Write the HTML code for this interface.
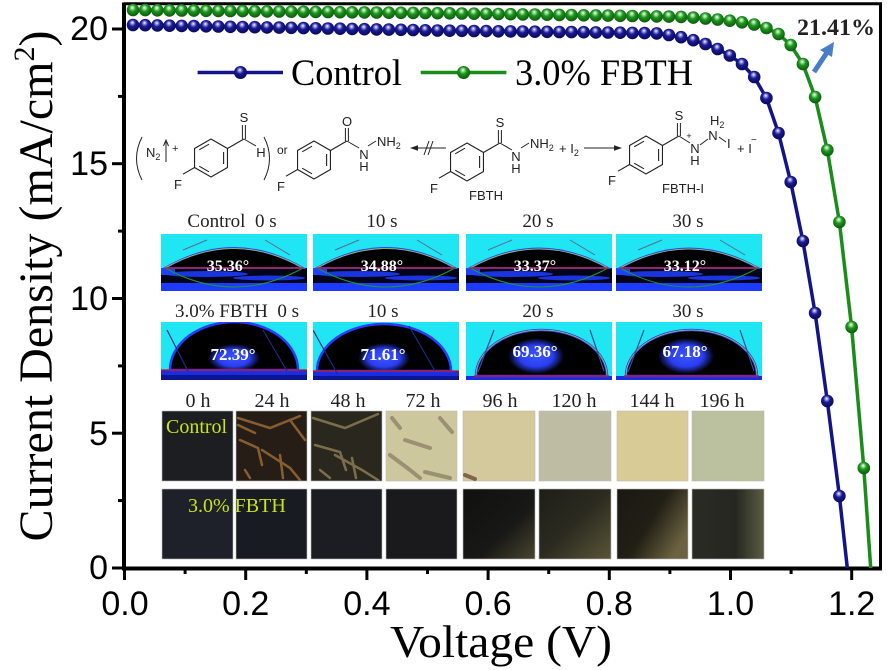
<!DOCTYPE html>
<html><head><meta charset="utf-8"><style>
html,body{margin:0;padding:0;background:#fff;}
svg{display:block;}
.ser{font-family:"Liberation Serif",serif;}
.san{font-family:"Liberation Sans",sans-serif;}
</style></head><body>
<svg width="887" height="670" viewBox="0 0 887 670" xmlns="http://www.w3.org/2000/svg">
<defs>
<radialGradient id="gb" cx="0.45" cy="0.4" r="0.6" fx="0.45" fy="0.3">
<stop offset="0" stop-color="#ffffff"/><stop offset="0.2" stop-color="#8c8ce0"/><stop offset="0.45" stop-color="#1b1b92"/><stop offset="1" stop-color="#08085c"/></radialGradient>
<radialGradient id="gg" cx="0.45" cy="0.4" r="0.6" fx="0.45" fy="0.3">
<stop offset="0" stop-color="#ffffff"/><stop offset="0.2" stop-color="#8fdc8f"/><stop offset="0.45" stop-color="#1f951f"/><stop offset="1" stop-color="#0a5a0a"/></radialGradient>
<radialGradient id="glow" cx="0.5" cy="0.5" r="0.5"><stop offset="0" stop-color="#3a55ff"/><stop offset="0.6" stop-color="#2a3ef0"/><stop offset="1" stop-color="#2a3ef0" stop-opacity="0"/></radialGradient>
<clipPath id="cr1"><rect x="0" y="234" width="146" height="57"/></clipPath>
<clipPath id="cr2"><rect x="0" y="322" width="146" height="58"/></clipPath>
<g id="benz" fill="none" stroke="#222" stroke-width="1.1">
<polygon points="0,-19 16.45,-9.5 16.45,9.5 0,19 -16.45,9.5 -16.45,-9.5"/>
<path d="M12.6,-6 L12.6,6 M-2,13.8 L-11.8,8.2 M-11.8,-8.2 L-2,-13.8"/>
<path d="M16.45,-9.5 L32.9,-19 M-16.45,9.5 L-28,16.2"/>
</g>
<g id="ctl">
<rect x="0" y="234" width="146" height="57" fill="#20e6f4"/>
<rect x="0" y="268" width="146" height="23" fill="#02051a"/>
<rect x="0" y="283" width="146" height="8" fill="#1d3bff"/>
<ellipse cx="45" cy="274" rx="42" ry="3" fill="#1a34e0"/><ellipse cx="108" cy="278" rx="36" ry="2.5" fill="#1a34e0"/><rect x="0" y="268" width="14" height="7" fill="#1e40ff"/>
</g>
<linearGradient id="d96" x1="0" y1="0" x2="1" y2="1"><stop offset="0" stop-color="#101010"/><stop offset="0.6" stop-color="#181816"/><stop offset="1" stop-color="#4a4530"/></linearGradient>
<linearGradient id="d120" x1="0" y1="0" x2="1" y2="1"><stop offset="0" stop-color="#1e1e18"/><stop offset="0.5" stop-color="#2c2b20"/><stop offset="1" stop-color="#5a5538"/></linearGradient>
<linearGradient id="d144" x1="0" y1="0" x2="1" y2="0.6"><stop offset="0" stop-color="#1a1812"/><stop offset="0.55" stop-color="#221f15"/><stop offset="1" stop-color="#6a6240"/></linearGradient>
<linearGradient id="d196" x1="0" y1="0" x2="1" y2="0"><stop offset="0" stop-color="#2a2b25"/><stop offset="0.6" stop-color="#262720"/><stop offset="1" stop-color="#5a5c44"/></linearGradient>
</defs>

<!-- frame / axes -->
<line x1="124" y1="3.8" x2="882" y2="3.8" stroke="#000" stroke-width="3"/>
<line x1="880.5" y1="2.5" x2="880.5" y2="570" stroke="#000" stroke-width="3"/>
<line x1="124" y1="2.5" x2="124" y2="570.5" stroke="#000" stroke-width="4"/>
<line x1="122" y1="568.5" x2="882" y2="568.5" stroke="#000" stroke-width="4"/>
<g stroke="#000" stroke-width="3">
<line x1="124.5" y1="568" x2="124.5" y2="580"/><line x1="245.7" y1="568" x2="245.7" y2="580"/><line x1="366.9" y1="568" x2="366.9" y2="580"/><line x1="488.1" y1="568" x2="488.1" y2="580"/><line x1="609.3" y1="568" x2="609.3" y2="580"/><line x1="730.5" y1="568" x2="730.5" y2="580"/><line x1="851.7" y1="568" x2="851.7" y2="580"/>
<line x1="185.1" y1="568" x2="185.1" y2="574"/><line x1="306.3" y1="568" x2="306.3" y2="574"/><line x1="427.5" y1="568" x2="427.5" y2="574"/><line x1="548.7" y1="568" x2="548.7" y2="574"/><line x1="669.9" y1="568" x2="669.9" y2="574"/><line x1="791.1" y1="568" x2="791.1" y2="574"/>
<line x1="112" y1="568" x2="124" y2="568"/><line x1="112" y1="433.2" x2="124" y2="433.2"/><line x1="112" y1="298.5" x2="124" y2="298.5"/><line x1="112" y1="163.7" x2="124" y2="163.7"/><line x1="112" y1="29" x2="124" y2="29"/>
<line x1="118" y1="500.6" x2="124" y2="500.6"/><line x1="118" y1="365.9" x2="124" y2="365.9"/><line x1="118" y1="231.1" x2="124" y2="231.1"/><line x1="118" y1="96.4" x2="124" y2="96.4"/>
</g>
<g class="san" font-size="34" fill="#000" text-anchor="end">
<text x="108" y="40">20</text><text x="108" y="175">15</text><text x="108" y="310">10</text><text x="108" y="445">5</text><text x="108" y="579">0</text>
</g>
<g class="san" font-size="34" fill="#000" text-anchor="middle">
<text x="125" y="615">0.0</text><text x="245.7" y="615">0.2</text><text x="366.9" y="615">0.4</text><text x="488.1" y="615">0.6</text><text x="609.3" y="615">0.8</text><text x="730.5" y="615">1.0</text><text x="851.7" y="615">1.2</text>
</g>
<text class="ser" x="501" y="657" font-size="45" text-anchor="middle" textLength="222" lengthAdjust="spacingAndGlyphs">Voltage (V)</text>
<text class="ser" transform="translate(52,286) rotate(-90)" font-size="48" text-anchor="middle">Current Density (mA/cm<tspan font-size="30" dy="-18">2</tspan><tspan dy="18">)</tspan></text>

<!-- legend -->
<line x1="197.6" y1="72.5" x2="283" y2="72.5" stroke="#14148a" stroke-width="3.5"/>
<circle cx="240.5" cy="72.5" r="6.5" fill="url(#gb)"/>
<text class="ser" x="291" y="85" font-size="37" textLength="111" lengthAdjust="spacingAndGlyphs">Control</text>
<line x1="420.7" y1="72.5" x2="506.4" y2="72.5" stroke="#1a8c1a" stroke-width="3.5"/>
<circle cx="463.6" cy="72.5" r="6.5" fill="url(#gg)"/>
<text class="ser" x="515" y="85" font-size="37" textLength="178" lengthAdjust="spacingAndGlyphs">3.0% FBTH</text>

<!-- chemistry -->
<g class="san" font-size="13" fill="#222" stroke="none">
<path d="M142,137 Q131,158.5 142,180" fill="none" stroke="#222" stroke-width="1"/>
<text x="146" y="157">N<tspan font-size="9" dy="3">2</tspan></text>
<path d="M166,162 L166,142 M163.5,146 L166,140 L168.5,146" fill="none" stroke="#222" stroke-width="1"/>
<text x="172" y="152" font-size="11">+</text>
<use href="#benz" x="211" y="158"/>
<path d="M242.4,139 L242.4,125 M245.4,139 L245.4,125 M243.9,139 L256,146" fill="none" stroke="#222" stroke-width="1"/>
<text x="244" y="122" text-anchor="middle">S</text>
<text x="261" y="157" text-anchor="middle">H</text>
<text x="178" y="189" text-anchor="middle">F</text>
<path d="M264,137 Q275,158.5 264,180" fill="none" stroke="#222" stroke-width="1"/>
<text x="277" y="154" font-size="12">or</text>

<use href="#benz" x="314" y="160"/>
<path d="M345.4,141 L345.4,128 M348.4,141 L348.4,128 M346.9,141 L359,148 M368,146 L376,141" fill="none" stroke="#222" stroke-width="1"/>
<text x="347" y="126" text-anchor="middle">O</text>
<text x="364" y="159" text-anchor="middle">N</text>
<text x="364" y="171" text-anchor="middle">H</text>
<text x="377" y="146">NH<tspan font-size="9" dy="3">2</tspan></text>
<text x="281" y="191" text-anchor="middle">F</text>

<path d="M446,148 L416,148 M424,155 L429,141 M428,155 L433,141" fill="none" stroke="#222" stroke-width="1"/>
<polygon points="410,148 418,145.3 418,150.7" fill="#222"/>

<use href="#benz" x="467" y="162"/>
<path d="M498.4,143 L498.4,130 M501.4,143 L501.4,130 M499.9,143 L512,150 M521,148 L529,143" fill="none" stroke="#222" stroke-width="1"/>
<text x="500" y="127" text-anchor="middle">S</text>
<text x="516" y="161" text-anchor="middle">N</text>
<text x="516" y="173" text-anchor="middle">H</text>
<text x="530" y="148">NH<tspan font-size="9" dy="3">2</tspan></text>
<text x="434" y="193" text-anchor="middle">F</text>
<text x="486" y="200" text-anchor="middle">FBTH</text>
<text x="559" y="153">+ I<tspan font-size="9" dy="3">2</tspan></text>
<path d="M584,148 L616,148" fill="none" stroke="#222" stroke-width="1"/>
<polygon points="622,148 614,145.3 614,150.7" fill="#222"/>

<use href="#benz" x="646" y="155"/>
<path d="M677.4,136 L677.4,123 M680.4,136 L680.4,123 M678.9,136 L690,143 M700,145 L708,139 M719,137 L726,142" fill="none" stroke="#222" stroke-width="1"/>
<text x="679" y="120" text-anchor="middle">S</text>
<text x="695" y="153" text-anchor="middle">N</text>
<text x="689" y="139" font-size="9" text-anchor="middle">+</text>
<text x="695" y="165" text-anchor="middle">H</text>
<text x="713" y="140" text-anchor="middle">N</text>
<text x="710" y="125">H<tspan font-size="9" dy="3">2</tspan></text>
<text x="727" y="148">I</text>
<text x="737" y="153">+ I</text>
<text x="751" y="143" font-size="10">−</text>
<text x="612" y="185" text-anchor="middle">F</text>
<text x="683" y="193" text-anchor="middle">FBTH-I</text>
</g>

<!-- contact angle labels -->
<g class="ser" font-size="19" fill="#222" text-anchor="middle">
<text x="232" y="227">Control&#160;&#160;0 s</text><text x="382" y="227">10 s</text><text x="538" y="227">20 s</text><text x="688" y="227">30 s</text>
<text x="237" y="317">3.0% FBTH&#160;&#160;0 s</text><text x="383" y="317">10 s</text><text x="538" y="317">20 s</text><text x="688" y="317">30 s</text>
</g>

<!-- control contact images -->
<g>
<g transform="translate(161,0)"><g clip-path="url(#cr1)">
<use href="#ctl"/>
<path d="M4,268 Q73,228 142,268 Z" fill="#000" stroke="#2a48ff" stroke-width="2"/>
<path d="M4,268 Q73,229 142,268" fill="none" stroke="#a8c832" stroke-width="0.8"/>
<path d="M4,268 Q73,306 142,268" fill="none" stroke="#1a9a30" stroke-width="1"/>
<line x1="4" y1="268" x2="142" y2="268" stroke="#d01010" stroke-width="1.2"/>
<path d="M22,250 L46,240 M104,240 L129,255" stroke="#5a6a9a" stroke-width="1"/>
<text class="ser" x="67" y="271" font-size="16" font-weight="bold" fill="#fff" text-anchor="middle">35.36°</text>
</g></g>
<g transform="translate(313,0)"><g clip-path="url(#cr1)">
<use href="#ctl"/>
<path d="M4,268 Q73,228 142,268 Z" fill="#000" stroke="#2a48ff" stroke-width="2"/>
<path d="M4,268 Q73,229 142,268" fill="none" stroke="#a8c832" stroke-width="0.8"/>
<path d="M4,268 Q73,306 142,268" fill="none" stroke="#1a9a30" stroke-width="1"/>
<line x1="4" y1="268" x2="142" y2="268" stroke="#d01010" stroke-width="1.2"/>
<path d="M22,250 L46,240 M104,240 L129,255" stroke="#5a6a9a" stroke-width="1"/>
<text class="ser" x="69" y="271" font-size="16" font-weight="bold" fill="#fff" text-anchor="middle">34.88°</text>
</g></g>
<g transform="translate(466,0)"><g clip-path="url(#cr1)">
<use href="#ctl"/>
<path d="M4,268 Q73,229 142,268 Z" fill="#000" stroke="#2a48ff" stroke-width="2"/>
<path d="M4,268 Q73,230 142,268" fill="none" stroke="#a8c832" stroke-width="0.8"/>
<path d="M4,268 Q73,306 142,268" fill="none" stroke="#1a9a30" stroke-width="1"/>
<line x1="4" y1="268" x2="142" y2="268" stroke="#d01010" stroke-width="1.2"/>
<path d="M22,250 L46,240 M104,240 L129,255" stroke="#5a6a9a" stroke-width="1"/>
<text class="ser" x="69" y="271" font-size="16" font-weight="bold" fill="#fff" text-anchor="middle">33.37°</text>
</g></g>
<g transform="translate(616,0)"><g clip-path="url(#cr1)">
<use href="#ctl"/>
<path d="M4,268 Q73,229 142,268 Z" fill="#000" stroke="#2a48ff" stroke-width="2"/>
<path d="M4,268 Q73,230 142,268" fill="none" stroke="#a8c832" stroke-width="0.8"/>
<path d="M4,268 Q73,306 142,268" fill="none" stroke="#1a9a30" stroke-width="1"/>
<line x1="4" y1="268" x2="142" y2="268" stroke="#d01010" stroke-width="1.2"/>
<path d="M22,250 L46,240 M104,240 L129,255" stroke="#5a6a9a" stroke-width="1"/>
<text class="ser" x="69" y="271" font-size="16" font-weight="bold" fill="#fff" text-anchor="middle">33.12°</text>
</g></g>
</g>

<!-- FBTH contact images -->
<g>
<g transform="translate(161,0)"><g clip-path="url(#cr2)">
<rect x="0" y="322" width="146" height="58" fill="#20e6f4"/>
<rect x="0" y="370" width="146" height="10" fill="#1a2de0"/>
<rect x="0" y="375" width="146" height="5" fill="#0c1690"/>
<path d="M9,370 A64,48 0 0 1 137,370 Z" fill="#000" stroke="#2a3cff" stroke-width="2.5"/>
<ellipse cx="73" cy="358" rx="26" ry="14" fill="url(#glow)"/>
<line x1="0" y1="370" x2="146" y2="370" stroke="#d01010" stroke-width="1.2"/>
<path d="M6,330 L27,371 M102,330 L126,371" stroke="#1a2a8a" stroke-width="1.2"/>
<text class="ser" x="72" y="360" font-size="17" font-weight="bold" fill="#fff" text-anchor="middle">72.39°</text>
</g></g>
<g transform="translate(313,0)"><g clip-path="url(#cr2)">
<rect x="0" y="322" width="146" height="58" fill="#20e6f4"/>
<rect x="0" y="371" width="146" height="9" fill="#1a2de0"/>
<rect x="0" y="376" width="146" height="4" fill="#0c1690"/>
<path d="M4,371 A67,47 0 0 1 138,371 Z" fill="#000" stroke="#2a3cff" stroke-width="2.5"/>
<ellipse cx="71" cy="358" rx="26" ry="15" fill="url(#glow)"/>
<line x1="0" y1="371" x2="146" y2="371" stroke="#d01010" stroke-width="1.2"/>
<path d="M0,330 L25,375 M96,326 L122,371" stroke="#1a2a8a" stroke-width="1.2"/>
<text class="ser" x="70" y="360" font-size="17" font-weight="bold" fill="#fff" text-anchor="middle">71.61°</text>
</g></g>
<g transform="translate(466,0)"><g clip-path="url(#cr2)">
<rect x="0" y="322" width="146" height="58" fill="#20e6f4"/>
<rect x="0" y="376" width="146" height="4" fill="#1a2de0"/>
<path d="M10,376 A65.5,46 0 0 1 141,376 Z" fill="#000" stroke="#2a3cff" stroke-width="2.5"/>
<path d="M10,376 A65.5,46 0 0 1 141,376" fill="none" stroke="#a8c832" stroke-width="0.8"/>
<ellipse cx="70" cy="356" rx="28" ry="18" fill="url(#glow)"/>
<line x1="8" y1="376" x2="143" y2="376" stroke="#d01010" stroke-width="1.2"/>
<path d="M12,372 L28,330 M124,330 L138,371" stroke="#3c4c8c" stroke-width="1.2"/>
<text class="ser" x="69" y="357" font-size="17" font-weight="bold" fill="#fff" text-anchor="middle">69.36°</text>
</g></g>
<g transform="translate(616,0)"><g clip-path="url(#cr2)">
<rect x="0" y="322" width="146" height="58" fill="#20e6f4"/>
<rect x="0" y="376" width="146" height="4" fill="#1a2de0"/>
<path d="M10,376 A65.5,46 0 0 1 141,376 Z" fill="#000" stroke="#2a3cff" stroke-width="2.5"/>
<path d="M10,376 A65.5,46 0 0 1 141,376" fill="none" stroke="#a8c832" stroke-width="0.8"/>
<ellipse cx="70" cy="356" rx="28" ry="18" fill="url(#glow)"/>
<line x1="8" y1="376" x2="143" y2="376" stroke="#d01010" stroke-width="1.2"/>
<path d="M12,372 L28,330 M124,330 L138,371" stroke="#3c4c8c" stroke-width="1.2"/>
<text class="ser" x="69" y="357" font-size="17" font-weight="bold" fill="#fff" text-anchor="middle">67.18°</text>
</g></g>
</g>

<!-- degradation photos -->
<g class="ser" font-size="20" fill="#222" text-anchor="middle">
<text x="198" y="407">0 h</text><text x="272" y="407">24 h</text><text x="348" y="407">48 h</text><text x="423" y="407">72 h</text><text x="500" y="407">96 h</text><text x="574" y="407">120 h</text><text x="652" y="407">144 h</text><text x="722" y="407">196 h</text>
</g>
<g stroke="#bbb" stroke-width="0.6">
<rect x="162" y="411" width="71" height="70" fill="#1c1e22"/>
<rect x="236" y="411" width="71" height="70" fill="#261e16"/>
<rect x="311" y="411" width="71" height="70" fill="#2a271e"/>
<rect x="386" y="411" width="71" height="70" fill="#cdc79e"/>
<rect x="463" y="411" width="72" height="70" fill="#d4c99c"/>
<rect x="539" y="411" width="72" height="70" fill="#bebca3"/>
<rect x="617" y="411" width="71" height="70" fill="#d9cb95"/>
<rect x="692" y="411" width="72" height="70" fill="#bbc09e"/>
<rect x="162" y="489" width="71" height="70" fill="#1e2129"/>
<rect x="236" y="489" width="71" height="70" fill="#181b22"/>
<rect x="311" y="489" width="71" height="70" fill="#1b1d22"/>
<rect x="386" y="489" width="71" height="70" fill="#1a1a1c"/>
<rect x="463" y="489" width="72" height="70" fill="url(#d96)"/>
<rect x="539" y="489" width="72" height="70" fill="url(#d120)"/>
<rect x="617" y="489" width="71" height="70" fill="url(#d144)"/>
<rect x="692" y="489" width="72" height="70" fill="url(#d196)"/>
</g>
<g fill="none" stroke-linecap="round">
<g stroke="#a8743a" stroke-width="2.5" opacity="0.75">
<path d="M238,418 L270,428 L300,416"/><path d="M240,440 L258,448 L262,465"/><path d="M262,450 L290,468 L300,480"/><path d="M280,455 L283,478"/><path d="M245,470 L250,478"/><path d="M290,420 L305,440"/><path d="M238,425 L255,433"/>
</g>
<g stroke="#968659" stroke-width="2.5" opacity="0.75">
<path d="M313,418 L345,428 L378,414"/><path d="M315,445 L340,452 L346,470"/><path d="M335,455 L362,470 L378,480"/><path d="M352,458 L356,478"/><path d="M320,470 L330,478"/>
</g>
<g stroke="#6a5a48" stroke-width="4" opacity="0.5">
<path d="M390,455 L410,470 L420,478"/><path d="M440,418 L452,432"/><path d="M392,418 L400,428"/><path d="M425,472 L450,478"/><path d="M405,440 L430,448"/>
</g>
<path d="M465,475 L475,479" stroke="#5a3a2a" stroke-width="4" opacity="0.7"/>
</g>
<text class="ser" x="166" y="433" font-size="20" fill="#c6e41c">Control</text>
<text class="ser" x="188" y="512" font-size="20" fill="#c6e41c">3.0% FBTH</text>

<!-- curves -->
<polyline fill="none" stroke="#14148a" stroke-width="3.5" stroke-linejoin="round" points="133,25 450,30.7 656.7,33.4 668.9,35 681.1,37.2 693.3,40.2 705.5,44 717.6,49 729.8,55.5 742,64 754.2,77 766.4,98 778.5,133 790.7,182 802.9,241 815.1,313 827.3,401 839.4,496 847.3,568"/>
<polyline fill="none" stroke="#1a8c1a" stroke-width="3.5" stroke-linejoin="round" points="133,10 450,13.3 681.1,16.9 693.3,17.6 705.5,18.5 717.6,19.5 729.8,20.7 742,22.3 754.2,24.5 766.4,28 778.5,34 790.7,45 802.9,64 815.1,97 827.3,150 839.4,222 851.6,327 863.8,468 870.7,568"/>

<g fill="url(#gg)">
<circle cx="133" cy="10" r="6.3"/><circle cx="145.2" cy="10.1" r="6.3"/><circle cx="157.4" cy="10.3" r="6.3"/><circle cx="169.5" cy="10.4" r="6.3"/><circle cx="181.7" cy="10.5" r="6.3"/><circle cx="193.9" cy="10.6" r="6.3"/><circle cx="206.1" cy="10.8" r="6.3"/><circle cx="218.3" cy="10.9" r="6.3"/><circle cx="230.4" cy="11" r="6.3"/><circle cx="242.6" cy="11.1" r="6.3"/><circle cx="254.8" cy="11.3" r="6.3"/><circle cx="267" cy="11.4" r="6.3"/><circle cx="279.2" cy="11.5" r="6.3"/><circle cx="291.3" cy="11.7" r="6.3"/><circle cx="303.5" cy="11.8" r="6.3"/><circle cx="315.7" cy="11.9" r="6.3"/><circle cx="327.9" cy="12" r="6.3"/><circle cx="340.1" cy="12.2" r="6.3"/><circle cx="352.2" cy="12.3" r="6.3"/><circle cx="364.4" cy="12.4" r="6.3"/><circle cx="376.6" cy="12.5" r="6.3"/><circle cx="388.8" cy="12.7" r="6.3"/><circle cx="401" cy="12.8" r="6.3"/><circle cx="413.1" cy="12.9" r="6.3"/><circle cx="425.3" cy="13" r="6.3"/><circle cx="437.5" cy="13.2" r="6.3"/><circle cx="449.7" cy="13.3" r="6.3"/><circle cx="461.9" cy="13.5" r="6.3"/><circle cx="474" cy="13.7" r="6.3"/><circle cx="486.2" cy="13.8" r="6.3"/><circle cx="498.4" cy="14" r="6.3"/><circle cx="510.6" cy="14.2" r="6.3"/><circle cx="522.8" cy="14.4" r="6.3"/><circle cx="534.9" cy="14.5" r="6.3"/><circle cx="547.1" cy="14.7" r="6.3"/><circle cx="559.3" cy="14.9" r="6.3"/><circle cx="571.5" cy="15.1" r="6.3"/><circle cx="583.7" cy="15.3" r="6.3"/><circle cx="595.8" cy="15.4" r="6.3"/><circle cx="608" cy="15.6" r="6.3"/><circle cx="620.2" cy="15.8" r="6.3"/><circle cx="632.4" cy="16" r="6.3"/><circle cx="644.6" cy="16.2" r="6.3"/><circle cx="656.7" cy="16.4" r="6.3"/><circle cx="668.9" cy="16.6" r="6.3"/><circle cx="681.1" cy="16.9" r="6.3"/><circle cx="693.3" cy="17.6" r="6.3"/><circle cx="705.5" cy="18.5" r="6.3"/><circle cx="717.6" cy="19.5" r="6.3"/><circle cx="729.8" cy="20.7" r="6.3"/><circle cx="742" cy="22.3" r="6.3"/><circle cx="754.2" cy="24.5" r="6.3"/><circle cx="766.4" cy="28" r="6.3"/><circle cx="778.5" cy="34" r="6.3"/><circle cx="790.7" cy="45" r="6.3"/><circle cx="802.9" cy="64" r="6.3"/><circle cx="815.1" cy="97" r="6.3"/><circle cx="827.3" cy="150" r="6.3"/><circle cx="839.4" cy="222" r="6.3"/><circle cx="851.6" cy="327" r="6.3"/><circle cx="863.8" cy="468" r="6.3"/>
</g>
<g fill="url(#gb)">
<circle cx="133" cy="25" r="6.3"/><circle cx="145.2" cy="25.2" r="6.3"/><circle cx="157.4" cy="25.4" r="6.3"/><circle cx="169.5" cy="25.7" r="6.3"/><circle cx="181.7" cy="25.9" r="6.3"/><circle cx="193.9" cy="26.1" r="6.3"/><circle cx="206.1" cy="26.3" r="6.3"/><circle cx="218.3" cy="26.5" r="6.3"/><circle cx="230.4" cy="26.8" r="6.3"/><circle cx="242.6" cy="27" r="6.3"/><circle cx="254.8" cy="27.2" r="6.3"/><circle cx="267" cy="27.4" r="6.3"/><circle cx="279.2" cy="27.6" r="6.3"/><circle cx="291.3" cy="27.8" r="6.3"/><circle cx="303.5" cy="28.1" r="6.3"/><circle cx="315.7" cy="28.3" r="6.3"/><circle cx="327.9" cy="28.5" r="6.3"/><circle cx="340.1" cy="28.7" r="6.3"/><circle cx="352.2" cy="28.9" r="6.3"/><circle cx="364.4" cy="29.2" r="6.3"/><circle cx="376.6" cy="29.4" r="6.3"/><circle cx="388.8" cy="29.6" r="6.3"/><circle cx="401" cy="29.8" r="6.3"/><circle cx="413.1" cy="30" r="6.3"/><circle cx="425.3" cy="30.3" r="6.3"/><circle cx="437.5" cy="30.5" r="6.3"/><circle cx="449.7" cy="30.7" r="6.3"/><circle cx="461.9" cy="30.8" r="6.3"/><circle cx="474" cy="31" r="6.3"/><circle cx="486.2" cy="31.1" r="6.3"/><circle cx="498.4" cy="31.3" r="6.3"/><circle cx="510.6" cy="31.4" r="6.3"/><circle cx="522.8" cy="31.5" r="6.3"/><circle cx="534.9" cy="31.7" r="6.3"/><circle cx="547.1" cy="31.8" r="6.3"/><circle cx="559.3" cy="32" r="6.3"/><circle cx="571.5" cy="32.1" r="6.3"/><circle cx="583.7" cy="32.2" r="6.3"/><circle cx="595.8" cy="32.4" r="6.3"/><circle cx="608" cy="32.5" r="6.3"/><circle cx="620.2" cy="32.7" r="6.3"/><circle cx="632.4" cy="32.9" r="6.3"/><circle cx="644.6" cy="33.1" r="6.3"/><circle cx="656.7" cy="33.4" r="6.3"/><circle cx="668.9" cy="35" r="6.3"/><circle cx="681.1" cy="37.2" r="6.3"/><circle cx="693.3" cy="40.2" r="6.3"/><circle cx="705.5" cy="44" r="6.3"/><circle cx="717.6" cy="49" r="6.3"/><circle cx="729.8" cy="55.5" r="6.3"/><circle cx="742" cy="64" r="6.3"/><circle cx="754.2" cy="77" r="6.3"/><circle cx="766.4" cy="98" r="6.3"/><circle cx="778.5" cy="133" r="6.3"/><circle cx="790.7" cy="182" r="6.3"/><circle cx="802.9" cy="241" r="6.3"/><circle cx="815.1" cy="313" r="6.3"/><circle cx="827.3" cy="401" r="6.3"/><circle cx="839.4" cy="496" r="6.3"/>
</g>

<!-- PCE annotation -->
<text class="ser" x="797" y="35" font-size="23" font-weight="bold" fill="#222" textLength="78" lengthAdjust="spacingAndGlyphs">21.41%</text>
<line x1="814" y1="72" x2="828" y2="51" stroke="#4a7cc8" stroke-width="5"/>
<polygon points="834,42 820,50 832,57" fill="#4a7cc8"/>
</svg>
</body></html>
